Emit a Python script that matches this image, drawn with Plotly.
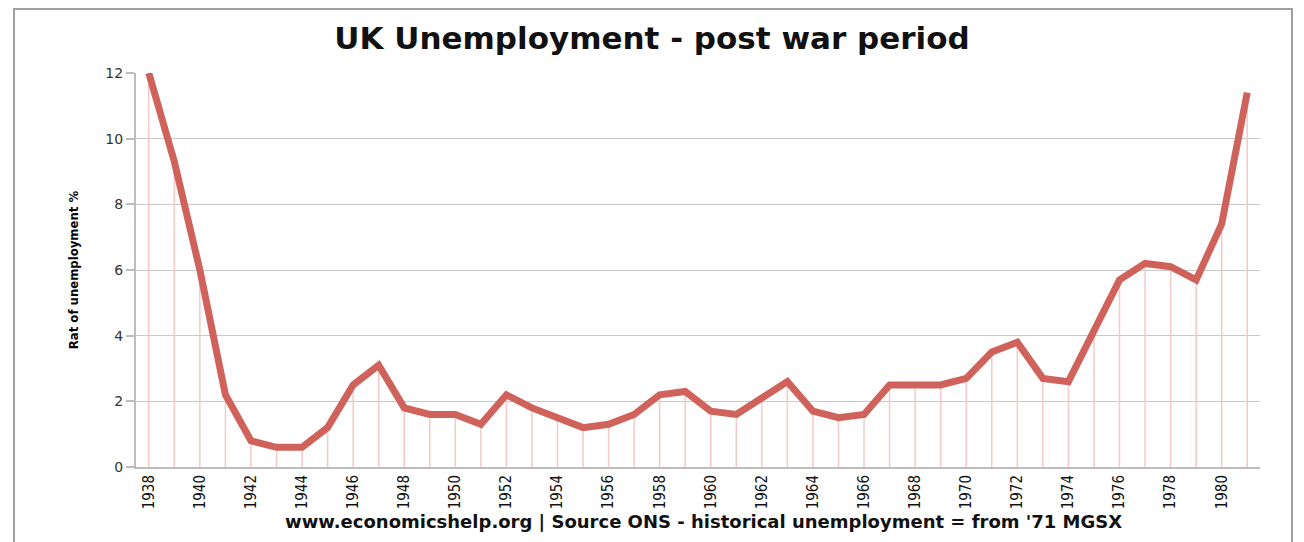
import plotly.graph_objects as go

years = [str(y) for y in range(1938, 1982)]
unemployment = [12.0, 9.3, 6.0, 2.2, 0.8, 0.6, 0.6, 1.2, 2.5, 3.1,
                1.8, 1.6, 1.6, 1.3, 2.2, 1.8, 1.5, 1.2, 1.3, 1.6,
                2.2, 2.3, 1.7, 1.6, 2.1, 2.6, 1.7, 1.5, 1.6, 2.5,
                2.5, 2.5, 2.7, 3.5, 3.8, 2.7, 2.6, 4.1, 5.7, 6.2,
                6.1, 5.7, 7.4, 11.4]
tick_years = [str(y) for y in range(1938, 1982, 2)]

W, H = 1304, 542
L, R, T, B = 128, 52, 65, 83
PW, PH = W - L - R, H - T - B

NARROW = "DejaVu Sans Condensed, Liberation Sans Narrow, Arial Narrow, sans-serif"
WIDE = "DejaVu Sans, Verdana, sans-serif"

fig = go.Figure()
fig.add_trace(go.Scatter(
    x=years, y=unemployment, mode="lines",
    line=dict(color="#D0625C", width=7),
    error_y=dict(type="data", symmetric=False,
                 array=[0] * len(unemployment), arrayminus=unemployment,
                 color="#F4C9C8", thickness=1.5, width=0),
    hoverinfo="x+y", showlegend=False,
))

fig.update_layout(
    width=W, height=H,
    paper_bgcolor="white", plot_bgcolor="white",
    margin=dict(l=L, r=R, t=T, b=B),
    title=dict(text="<b>UK Unemployment - post war period</b>",
               x=(644) / W, xanchor="center", xref="container",
               y=1 - 30 / H, yanchor="middle", yref="container",
               font=dict(family=WIDE, size=31, color="#111")),
    xaxis=dict(
        type="category", range=[-0.5, len(years) - 0.5],
        tickmode="array", tickvals=tick_years, ticktext=tick_years,
        tickangle=-90, showgrid=False,
        showline=True, linecolor="#BDBDBD", linewidth=2,
        ticks="", tickfont=dict(family=NARROW, size=15, color="#111"),
    ),
    yaxis=dict(
        range=[0, 12], dtick=2, showgrid=True, gridcolor="#C8C8C8", gridwidth=1.2,
        showline=True, linecolor="#BDBDBD", linewidth=2,
        ticks="outside", ticklen=8, tickcolor="#BDBDBD", tickwidth=1.5,
        tickfont=dict(family=WIDE, size=14, color="#333"),
        zeroline=False,
        title=dict(text="<b>Rat of unemployment %</b>",
                   font=dict(family=NARROW, size=13, color="#000"),
                   standoff=24),
    ),
    annotations=[dict(
        text="<b>www.economicshelp.org | Source ONS - historical unemployment = from '71 MGSX</b>",
        xref="paper", yref="paper", x=(695 - L) / PW, y=-(513 - (T + PH)) / PH,
        xanchor="center", yanchor="middle", showarrow=False,
        font=dict(family=WIDE, size=18, color="#111"))],
    shapes=[dict(type="rect", xref="paper", yref="paper",
                 x0=(6 - L) / PW, x1=(1284 - L) / PW,
                 y0=-(H + 20 - (T + PH)) / PH, y1=(T + PH - 1) / PH,
                 line=dict(color="#A0A0A0", width=2), layer="below")],
)

fig.write_html("out.html")
